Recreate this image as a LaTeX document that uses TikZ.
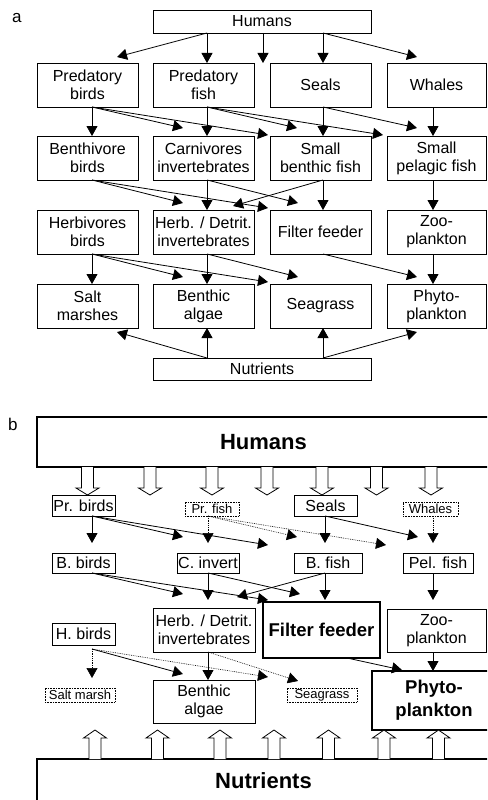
\documentclass[tikz,border=0pt]{standalone}
\usepackage{fontspec}
\setmainfont{Liberation Sans}
\usetikzlibrary{arrows.meta}
\begin{document}
\begin{tikzpicture}[x=1pt,y=-1pt,
  box/.style={draw, line width=0.8pt, inner sep=0pt, outer sep=0pt, align=center, font=\fontsize{16}{18}\selectfont},
  dotbox/.style={draw, densely dotted, line width=0.6pt, inner sep=0pt, outer sep=0pt, align=center, font=\fontsize{13}{15}\selectfont},
  thickbox/.style={draw, line width=2pt, inner sep=0pt, outer sep=0pt, align=center, font=\bfseries\fontsize{18.5}{23}\selectfont},
  bigbox/.style={thickbox, font=\bfseries\fontsize{22}{26}\selectfont},
  wh/.style 2 args={minimum width=#1pt, minimum height=#2pt},
  arr/.style={-{Triangle[length=10pt,width=11pt]}, line width=0.8pt},
  darr/.style={arr, densely dotted, line width=0.6pt},
  lbl/.style={anchor=base west, inner sep=0pt, font=\fontsize{17}{20}\selectfont},
  hdown/.pic={\draw[line width=0.8pt, fill=white] (-6,0) -- (-6,21) -- (-11.5,21) -- (0,28) -- (11.5,21) -- (6,21) -- (6,0);},
  hup/.pic={\draw[line width=0.8pt, fill=white] (-6,0) -- (-6,-21) -- (-11.5,-21) -- (0,-29) -- (11.5,-21) -- (6,-21) -- (6,0);}
]
\useasboundingbox (0,0) rectangle (487,800);
\clip (0,0) rectangle (487,800);

% ---------------- panel a ----------------
\node[lbl] (la) at (12,23) {a};
\node[box, wh={218}{23}] (hA) at (262,21.5) {Humans};
\node[box, wh={101}{44}] (pbA) at (87.5,85) {Predatory\\birds};
\node[box, wh={101}{44}] (pfA) at (203.5,85) {Predatory\\fish};
\node[box, wh={101}{44}] (seA) at (320.5,85) {Seals};
\node[box, wh={99}{44}] (whA) at (436.5,85) {Whales};
\node[box, wh={101}{44}] (bbA) at (87.5,158) {Benthivore\\birds};
\node[box, wh={101}{44}] (ciA) at (203.5,158) {Carnivores\\invertebrates};
\node[box, wh={101}{44}] (sbA) at (320.5,158) {Small\\benthic fish};
\node[box, wh={99}{44}] (spA) at (436.5,158) {Small\\pelagic fish};
\node[box, wh={101}{44}] (hbA) at (87.5,232) {Herbivores\\birds};
\node[box, wh={101}{44}] (hdA) at (203.5,232) {Herb. / Detrit.\\invertebrates};
\node[box, wh={101}{44}] (ffA) at (320.5,232) {Filter feeder};
\node[box, wh={99}{44}] (zpA) at (436.5,232) {Zoo-\\plankton};
\node[box, wh={101}{44}] (smA) at (87.5,306) {Salt\\marshes};
\node[box, wh={101}{44}] (baA) at (203.5,306) {Benthic\\algae};
\node[box, wh={101}{44}] (sgA) at (320.5,306) {Seagrass};
\node[box, wh={99}{44}] (ppA) at (436.5,306) {Phyto-\\plankton};
\node[box, wh={218}{22}] (nA) at (262,369) {Nutrients};
\coordinate (gapA) at (263,63);

% Humans
\draw[arr] ([xshift=-55pt]hA.south) -- ([xshift=29.5pt,yshift=6pt]pbA.north);
\draw[arr] ([xshift=-55pt]hA.south) -- ([xshift=3.5pt]pfA.north);
\draw[arr] ([xshift=1pt]hA.south) -- (gapA);
\draw[arr] ([xshift=61pt]hA.south) -- ([xshift=2.5pt]seA.north);
\draw[arr] ([xshift=61pt]hA.south) -- ([xshift=-19.5pt,yshift=6pt]whA.north);
% row 1 -> row 2
\draw[arr] ([xshift=4.5pt]pbA.south) -- ([xshift=4.5pt]bbA.north);
\draw[arr] ([xshift=4.5pt]pbA.south) -- ([xshift=-20.5pt,yshift=8pt]ciA.north);
\draw[arr] ([xshift=4.5pt]pbA.south) -- ([xshift=-2pt,yshift=1pt]sbA.north west);
\draw[arr] ([xshift=3.5pt]pfA.south) -- ([xshift=3.5pt]ciA.north);
\draw[arr] ([xshift=3.5pt]pfA.south) -- ([xshift=-23.5pt,yshift=8pt]sbA.north);
\draw[arr] ([xshift=3.5pt]pfA.south) -- ([xshift=-4pt,yshift=1pt]spA.north west);
\draw[arr] ([xshift=2.5pt]seA.south) -- ([xshift=2.5pt]sbA.north);
\draw[arr] ([xshift=2.5pt]seA.south) -- ([xshift=-19.5pt,yshift=8pt]spA.north);
\draw[arr] ([xshift=-3.5pt]whA.south) -- ([xshift=-3.5pt]spA.north);
% row 2 -> row 3
\draw[arr] ([xshift=4.5pt]bbA.south) -- ([xshift=-20.5pt,yshift=7pt]hdA.north);
\draw[arr] ([xshift=4.5pt]bbA.south) -- ([xshift=-2pt,yshift=2pt]ffA.north west);
\draw[arr] ([xshift=3.5pt]ciA.south) -- ([xshift=3.5pt]hdA.north);
\draw[arr] ([xshift=3.5pt]ciA.south) -- ([xshift=-22.5pt,yshift=7pt]ffA.north);
\draw[arr] ([xshift=2.5pt]sbA.south) -- ([xshift=29.5pt,yshift=4pt]hdA.north);
\draw[arr] ([xshift=2.5pt]sbA.south) -- ([xshift=2.5pt]ffA.north);
\draw[arr] ([xshift=-3.5pt]spA.south) -- ([xshift=-3.5pt]zpA.north);
% row 3 -> row 4
\draw[arr] ([xshift=4.5pt]hbA.south) -- ([xshift=4.5pt]smA.north);
\draw[arr] ([xshift=4.5pt]hbA.south) -- ([xshift=-20.5pt,yshift=7pt]baA.north);
\draw[arr] ([xshift=4.5pt]hbA.south) -- ([xshift=-2pt,yshift=2pt]sgA.north west);
\draw[arr] ([xshift=3.5pt]hdA.south) -- ([xshift=3.5pt]baA.north);
\draw[arr] ([xshift=3.5pt]hdA.south) -- ([xshift=-22.5pt,yshift=7pt]sgA.north);
\draw[arr] ([xshift=2.5pt]ffA.south) -- ([xshift=-19.5pt,yshift=7pt]ppA.north);
\draw[arr] ([xshift=-3.5pt]zpA.south) -- ([xshift=-3.5pt]ppA.north);
% nutrients
\draw[arr] ([xshift=-55pt]nA.north) -- ([xshift=3.5pt]baA.south);
\draw[arr] ([xshift=-55pt]nA.north) -- ([xshift=29.5pt,yshift=-4pt]smA.south);
\draw[arr] ([xshift=61pt]nA.north) -- ([xshift=2.5pt]sgA.south);
\draw[arr] ([xshift=61pt]nA.north) -- ([xshift=-19.5pt,yshift=-4pt]ppA.south);

% ---------------- panel b ----------------
\node[lbl] (lb) at (8,430) {b};
\node[bigbox, wh={453}{50}] (hB) at (263.5,442) {Humans};
\node[box, wh={63}{21}] (pbB) at (83.5,505.5) {Pr. birds};
\node[dotbox, wh={54}{14}] (pfB) at (212,509) {Pr. fish};
\node[box, wh={63}{21}] (seB) at (325.5,505.5) {Seals};
\node[dotbox, wh={55}{14}] (whB) at (430.5,509) {Whales};
\node[box, wh={63}{20}] (bbB) at (83.5,563) {B. birds};
\node[box, wh={62}{20}] (ciB) at (208,563) {C. invert};
\node[box, wh={68}{20}] (bfB) at (328,563) {B. fish};
\node[box, wh={70}{20}] (plB) at (438,563) {Pel. fish};
\node[box, wh={63}{22}] (hbB) at (83.5,634) {H. birds};
\node[box, wh={102}{44}] (hdB) at (204,630) {Herb. / Detrit.\\invertebrates};
\node[thickbox, wh={117}{56}] (ffB) at (321.5,630) {Filter feeder};
\node[box, wh={99}{43}] (zpB) at (436.5,630.5) {Zoo-\\plankton};
\node[dotbox, wh={70}{14}] (smB) at (80,695) {Salt marsh};
\node[box, wh={102}{43}] (baB) at (204,701.5) {Benthic\\algae};
\node[dotbox, wh={70}{14}] (sgB) at (322,695) {Seagrass};
\node[thickbox, wh={124}{59}] (ppB) at (434,700.5) {Phyto-\\plankton};
\node[bigbox, wh={453}{43}] (nB) at (263.5,780.5) {Nutrients};

\foreach \d in {-176,-113.5,-51.5,3.5,58.5,113,167.5}
  \pic at ([xshift=\d pt]hB.south) {hdown};
\foreach \d in {-168.5,-106,-43.5,10.5,65,120.5,175}
  \pic at ([xshift=\d pt]nB.north) {hup};

% row 1 -> row 2
\draw[arr] ([xshift=8.5pt]pbB.south) -- ([xshift=8.5pt,yshift=10pt]bbB.north);
\draw[arr] ([xshift=8.5pt]pbB.south) -- ([xshift=-25pt,yshift=16pt]ciB.north);
\draw[arr] ([xshift=8.5pt]pbB.south) -- ([xshift=-60pt,yshift=8pt]bfB.north);
\draw[darr] ([xshift=-4pt]pfB.south) -- ([yshift=10pt]ciB.north);
\draw[darr] ([xshift=-4pt]pfB.south) -- ([xshift=-31pt,yshift=16pt]bfB.north);
\draw[darr] ([xshift=-4pt]pfB.south) -- ([xshift=-52pt,yshift=8pt]plB.north);
\draw[arr] ([xshift=-0.5pt]seB.south) -- ([xshift=-3pt,yshift=10pt]bfB.north);
\draw[arr] ([xshift=-0.5pt]seB.south) -- ([xshift=-20pt,yshift=16pt]plB.north);
\draw[darr] ([xshift=2.5pt]whB.south) -- ([xshift=-5pt,yshift=10pt]plB.north);
% row 2 -> row 3
\draw[arr] ([xshift=8.5pt]bbB.south) -- ([xshift=-21pt,yshift=14pt]hdB.north);
\draw[arr] ([xshift=8.5pt]bbB.south) -- ([xshift=5pt,yshift=2pt]ffB.north west);
\draw[arr] (ciB.south) -- ([xshift=4pt,yshift=8pt]hdB.north);
\draw[arr] (ciB.south) -- ([xshift=-21.5pt,yshift=8pt]ffB.north);
\draw[arr] ([xshift=-3pt]bfB.south) -- ([xshift=33pt,yshift=11pt]hdB.north);
\draw[arr] ([xshift=-3pt]bfB.south) -- ([xshift=3.5pt,yshift=2pt]ffB.north);
\draw[arr] ([xshift=-5pt]plB.south) -- ([xshift=-3.5pt,yshift=9pt]zpB.north);
% row 3 -> row 4
\draw[darr] ([xshift=8.5pt,yshift=-4pt]hbB.south) -- ([xshift=12pt,yshift=10pt]smB.north);
\draw[arr] ([xshift=8.5pt,yshift=-4pt]hbB.south) -- ([xshift=-21pt,yshift=6pt]baB.north);
\draw[darr] ([xshift=8.5pt,yshift=-4pt]hbB.south) -- ([xshift=-54pt,yshift=11pt]sgB.north);
\draw[arr] ([xshift=4pt]hdB.south) -- ([xshift=4pt]baB.north);
\draw[darr] ([xshift=4pt]hdB.south) -- ([xshift=-24pt,yshift=7pt]sgB.north);
\draw[arr] ([xshift=25.5pt]ffB.south) -- ([xshift=-32pt,yshift=1pt]ppB.north);
\draw[arr] ([xshift=-3.5pt]zpB.south) -- ([xshift=-1pt]ppB.north);
\end{tikzpicture}
\end{document}
